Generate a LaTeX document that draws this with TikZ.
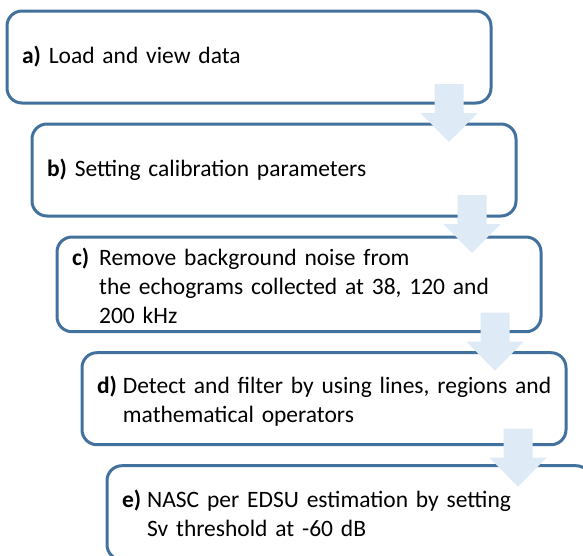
\documentclass[tikz,border=0pt]{standalone}
\usepackage{fontspec}
\setmainfont{Carlito}
\usetikzlibrary{positioning}
\definecolor{boxline}{RGB}{65,113,156}
\definecolor{arrowfill}{RGB}{222,235,247}
\newcommand{\stepfont}{\fontsize{23.5}{29}\selectfont\setlength{\spaceskip}{0.21em}}
\newcommand{\steplabel}[3]{\rule{0pt}{28pt}\textbf{#1}\hspace{#2}\begin{tabular}[t]{@{}l@{}}#3\end{tabular}}
\tikzset{
    stepbox/.style={draw=boxline, line width=3pt, rounded corners=15pt, fill=white,
        minimum width=484pt, minimum height=92pt, text width=454pt, inner xsep=15pt,
        inner ysep=0pt, outer sep=0pt, align=left, font=\stepfont}, % the boxes
    node distance=21pt and 25pt, % gap between two boxes
    flowarrow/.style={fill=arrowfill, draw=none}, % the block arrows
}

\begin{document}
\begin{tikzpicture}
    \useasboundingbox (0,0) rectangle (583pt,-555pt);
    \clip (0,0) rectangle (583pt,-555pt);
    \node[stepbox, anchor=north west] (a) at (7pt,-11pt) {\textbf{a)} Load and view data};
    \node[stepbox, below right=of a.south west] (b) {\textbf{b)} Setting calibration parameters};
    \node[stepbox, below right=of b.south west] (c) {\steplabel{c)}{10pt}{Remove background noise from\\the echograms collected at 38, 120 and\\200 kHz}};
    \node[stepbox, below right=of c.south west] (d) {\steplabel{d)}{6pt}{Detect and filter by using lines, regions and\\mathematical operators}};
    \node[stepbox, below right=of d.south west, minimum height=94pt] (e) {\steplabel{e)}{6pt}{NASC per EDSU estimation by setting\\Sv threshold at -60 dB}};
    % block arrows from one box to the next
    \foreach \from/\dx/\dy in {a/42pt/19pt, b/44pt/21pt, c/46pt/19pt, d/48pt/16pt}{
        \coordinate[above left=\dy and \dx of \from.south east] (\from-top);
        \fill[flowarrow] (\from-top) ++(-14.5pt,0) -- ++(29pt,0) -- ++(0,-29pt) -- ++(14pt,0)
            -- ++(-28.5pt,-29pt) -- ++(-28.5pt,29pt) -- ++(14pt,0) -- cycle;
    }
\end{tikzpicture}
\end{document}
